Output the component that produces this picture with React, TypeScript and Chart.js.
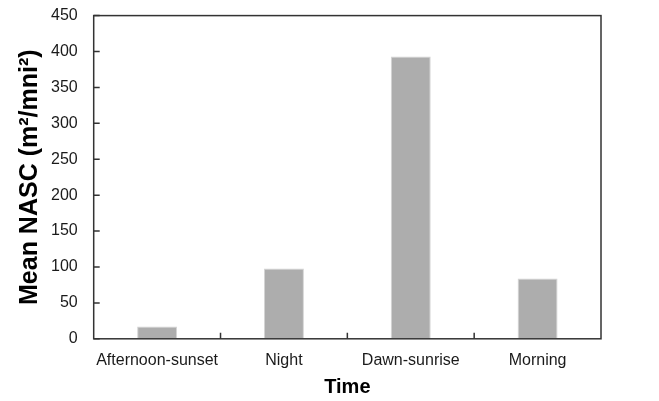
import React, { useEffect, useRef } from "react";
import { Chart, registerables } from "chart.js";

Chart.register(...registerables);

const categories = ["Afternoon-sunset", "Night", "Dawn-sunrise", "Morning"];
const meanNasc = [17, 98, 393, 84];
const yMin = 0;
const yMax = 450;
const yStep = 50;
const xTitle = "Time";
const yTitle = "Mean NASC (m²/mni²)";

const frame = {
  id: "frame",
  afterDatasetsDraw(chart: any) {
    const { ctx, chartArea, scales } = chart;
    const len = 6;
    ctx.save();
    ctx.strokeStyle = "#333333";
    ctx.lineWidth = 1.5;
    ctx.beginPath();
    scales.y.ticks.forEach((_t: any, i: number) => {
      const y = scales.y.getPixelForTick(i);
      ctx.moveTo(chartArea.left, y);
      ctx.lineTo(chartArea.left + len, y);
    });
    const n = scales.x.ticks.length;
    for (let i = 1; i < n; i++) {
      const x = (scales.x.getPixelForTick(i - 1) + scales.x.getPixelForTick(i)) / 2;
      ctx.moveTo(x, chartArea.bottom);
      ctx.lineTo(x, chartArea.bottom - len);
    }
    ctx.stroke();
    ctx.strokeRect(chartArea.left, chartArea.top, chartArea.right - chartArea.left, chartArea.bottom - chartArea.top);
    ctx.restore();
  },
};

export default function App() {
  const ref = useRef<HTMLCanvasElement>(null);
  useEffect(() => {
    const chart = new Chart(ref.current as HTMLCanvasElement, {
      type: "bar",
      data: {
        labels: categories,
        datasets: [
          {
            data: meanNasc,
            backgroundColor: "#adadad",
            borderColor: "#d4d4d4",
            borderWidth: 1,
            categoryPercentage: 1,
            barPercentage: 0.315,
          },
        ],
      },
      options: {
        animation: false,
        responsive: false,
        maintainAspectRatio: false,
        layout: { padding: { top: 6, right: 58, left: 5, bottom: 2 } },
        plugins: { legend: { display: false }, tooltip: { enabled: false } },
        scales: {
          x: {
            grid: { display: false, drawTicks: false },
            border: { display: false },
            ticks: {
              color: "#1a1a1a",
              font: { family: "Arial, 'Liberation Sans'", size: 16 },
              padding: 12,
              maxRotation: 0,
              minRotation: 0,
              autoSkip: false,
            },
            title: {
              display: true,
              text: xTitle,
              color: "#000000",
              font: { family: "Arial, 'Liberation Sans'", size: 20, weight: "bold" },
              padding: { top: -7, bottom: 0 },
            },
          },
          y: {
            min: yMin,
            max: yMax,
            grid: {
              display: true,
              drawOnChartArea: false,
              drawTicks: true,
              tickLength: 10,
              color: "rgba(0,0,0,0)",
              tickColor: "rgba(0,0,0,0)",
            },
            border: { display: false },
            ticks: {
              stepSize: yStep,
              color: "#1a1a1a",
              font: { family: "Arial, 'Liberation Sans'", size: 16 },
              padding: 6,
            },
            title: {
              display: true,
              text: yTitle,
              color: "#000000",
              font: { family: "Arial, 'Liberation Sans'", size: 25, weight: "bold" },
              padding: { top: 10, bottom: 0 },
            },
          },
        },
      },
      plugins: [frame],
    });
    return () => chart.destroy();
  }, []);
  return (
    <div style={{ position: "fixed", left: 0, top: 0, width: 659, height: 401, background: "#fff" }}>
      <canvas ref={ref} width={659} height={401} style={{ width: 659, height: 401 }} />
    </div>
  );
}
